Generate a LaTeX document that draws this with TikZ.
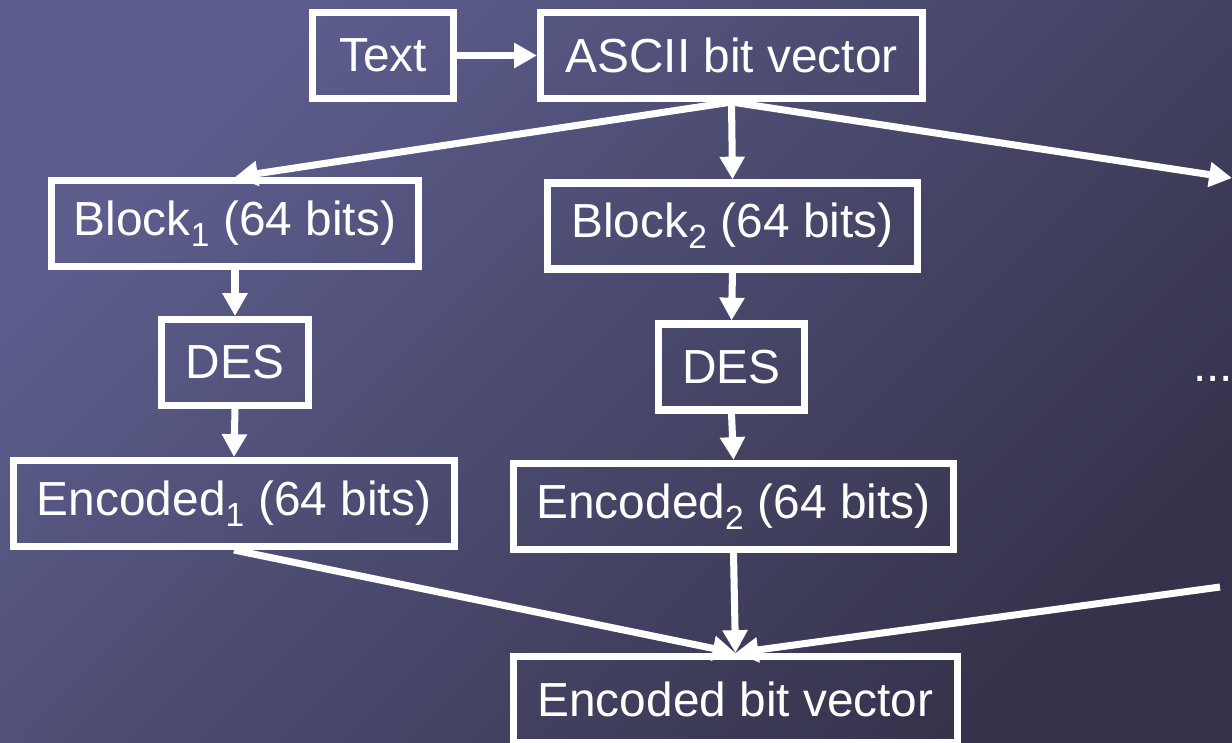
\documentclass[tikz,border=0pt]{standalone}
\usepackage{fontspec}
\setmainfont{Liberation Sans}
\usetikzlibrary{arrows.meta}
\definecolor{bgtop}{HTML}{5D5E8E}
\definecolor{bgbot}{HTML}{35334B}
\begin{document}
\begin{tikzpicture}[x=0.025cm, y=-0.025cm,
		box/.style={draw=white, line width=5pt, text=white, inner sep=0pt, minimum height=2.15cm,
			font=\fontsize{34}{40}\selectfont},
		flow/.style={white, line width=5pt, -{Triangle[length=0.57cm,width=0.6cm]}}]
	\useasboundingbox (0,0) rectangle (1232,743);
	\shade[top color=bgtop, bottom color=bgbot, shading angle=45] (0,0) rectangle (1232,743);
	
	\node[box, minimum width=3.525cm] (txt)   at (383  ,  55.5)  {Text};
	\node[box, minimum width=9.55cm]  (ascii) at (731.5,  55.5)  {ASCII bit vector};
	\node[box, minimum width=9.175cm] (blk1)  at (235  , 223.5)  {Block\textsubscript{1} (64 bits)};
	\node[box, minimum width=9.25cm]  (blk2)  at (732.5, 226  )  {Block\textsubscript{2} (64 bits)};
	\node[box, minimum width=3.675cm] (des1)  at (235  , 362.5)  {DES};
	\node[box, minimum width=3.65cm]  (des2)  at (731.5, 367  )  {DES};
	\node[box, minimum width=11.025cm] (enc1) at (234  , 503.5)  {Encoded\textsubscript{1} (64 bits)};
	\node[box, minimum width=11cm]    (enc2)  at (733.5, 506.5)  {Encoded\textsubscript{2} (64 bits)};
	\node[box, minimum width=11.1cm]  (encbv) at (735.5, 699.5)  {Encoded bit vector};
	\node[text=white, inner sep=0pt, anchor=base west, font=\fontsize{34}{40}\selectfont] (dots) at (1193,381) {...};
	\coordinate (more) at (1232,178);
	\coordinate (rest) at (1220,587);
	
	\def\list {txt.east/ascii.west, ascii.south/blk1.north, ascii.south/blk2.north, ascii.south/more}  % split
	\foreach \u/\v in \list
	{	\draw[flow] (\u) -- (\v);
	}
	\def\chain {blk1/des1, des1/enc1, blk2/des2, des2/enc2}  % per block
	\foreach \u/\v in \chain
	{	\draw[flow] (\u.south) -- (\v.north);
	}
	\def\merge {enc1.south, enc2.south, rest} % join
	\foreach \u in \merge
	{   \draw[flow] (\u) -- (encbv.north);
	}
\end{tikzpicture}
\end{document}
